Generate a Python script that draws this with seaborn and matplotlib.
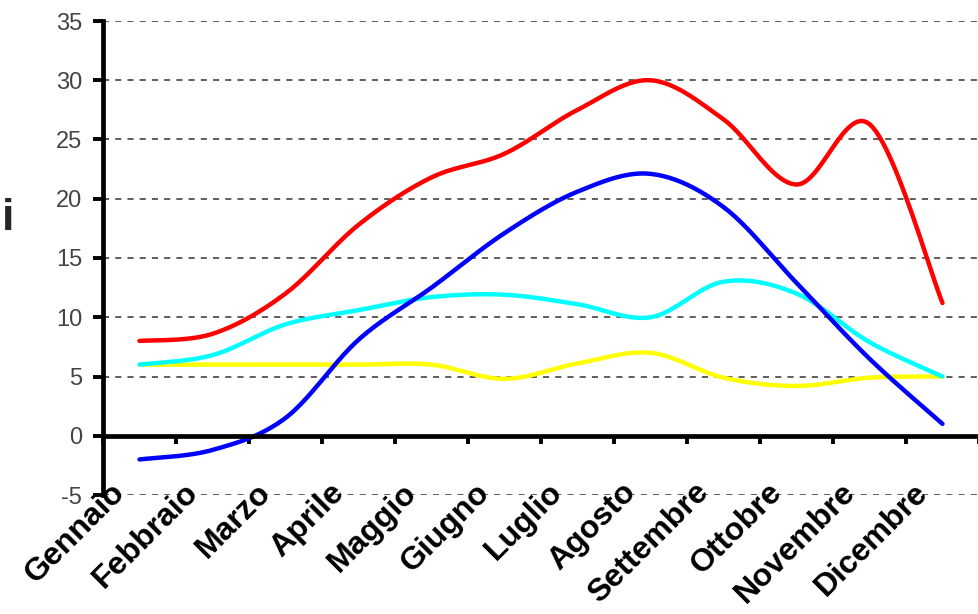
import numpy as np
import pandas as pd
import seaborn as sns
import matplotlib.pyplot as plt

mesi = ["Gennaio", "Febbraio", "Marzo", "Aprile", "Maggio", "Giugno",
        "Luglio", "Agosto", "Settembre", "Ottobre", "Novembre", "Dicembre"]
rosso = [8.0, 8.6, 12.0, 17.8, 21.8, 23.8, 27.5, 30.0, 26.7, 21.2, 26.3, 11.2]
blu = [-2.0, -1.2, 1.5, 8.1, 12.5, 17.1, 20.6, 22.1, 19.3, 12.9, 6.5, 1.0]
ciano = [6.0, 6.8, 9.4, 10.6, 11.7, 11.9, 11.1, 10.0, 13.0, 12.0, 7.9, 5.0]
giallo = [6.0, 6.0, 6.0, 6.0, 6.0, 4.8, 6.1, 7.0, 4.9, 4.2, 4.9, 5.0]
y_ticks = [-5, 0, 5, 10, 15, 20, 25, 30, 35]


def smooth(values, n=24):
    # excel-like smoothed line (catmull-rom through the points)
    p = np.asarray(values, dtype=float)
    x = np.arange(len(p), dtype=float)
    xs, ys = [], []
    for i in range(len(p) - 1):
        i0, i3 = max(i - 1, 0), min(i + 2, len(p) - 1)
        t = np.linspace(0, 1, n, endpoint=(i == len(p) - 2))
        for src, out in ((x, xs), (p, ys)):
            a, b, c, d = src[i0], src[i], src[i + 1], src[i3]
            out.append(0.5 * ((2 * b) + (-a + c) * t
                              + (2 * a - 5 * b + 4 * c - d) * t ** 2
                              + (-a + 3 * b - 3 * c + d) * t ** 3))
    return np.concatenate(xs), np.concatenate(ys)


sns.set_style("white")
plt.rcParams['font.family'] = ['Liberation Sans', 'DejaVu Sans']

fig = plt.figure(figsize=(9.79, 6.14), dpi=100)
ax = fig.add_axes([103 / 979, 1 - 495 / 614, 1 - 103 / 979, (495 - 21) / 614])

for serie, colore in [(giallo, "#FFFF00"), (ciano, "#00FFFF"),
                      (blu, "#0000FF"), (rosso, "#FF0000")]:
    sx, sy = smooth(serie)
    df = pd.DataFrame({"x": sx, "y": sy})
    sns.lineplot(data=df, x="x", y="y", sort=False, estimator=None,
                 color=colore, linewidth=3.2, ax=ax, clip_on=False)

ax.set_xlim(-0.5, len(mesi) - 0.5)
ax.set_ylim(-5, 35)
ax.set_yticks(y_ticks)
ax.set_yticklabels([str(v) for v in y_ticks], fontsize=17, color="#444444")
for v in y_ticks:
    if v != 0:
        ax.axhline(v, color="#333333", lw=1.1, ls=(0, (4, 4)), zorder=0)

ax.spines['top'].set_visible(False)
ax.spines['right'].set_visible(False)
for s in ['left', 'bottom']:
    ax.spines[s].set_linewidth(3.4)
    ax.spines[s].set_color('black')
ax.spines['bottom'].set_position(('data', 0))

ax.set_xticks(np.arange(len(mesi) + 1) - 0.5)
ax.set_xticklabels([])
ax.tick_params(axis='x', bottom=True, length=6, width=2.8, direction='out', color='black')
ax.tick_params(axis='y', left=True, length=7, width=2.8, direction='out', color='black', pad=8)
ax.set_xlabel("")
ax.set_ylabel("")

# month names sit below the plot area, not on the zero axis
for i, m in enumerate(mesi):
    ax.annotate(m, xy=(i, 0), xycoords=ax.get_xaxis_transform(),
                xytext=(-19, 7), textcoords='offset pixels',
                rotation=45, ha='right', va='center', rotation_mode='anchor',
                fontsize=23, fontweight='bold', color='black')

fig.text(0.002, 1 - 219 / 614, "i", fontsize=32, fontweight='bold',
         ha='left', va='center')

fig.savefig("out.png", dpi=100)
